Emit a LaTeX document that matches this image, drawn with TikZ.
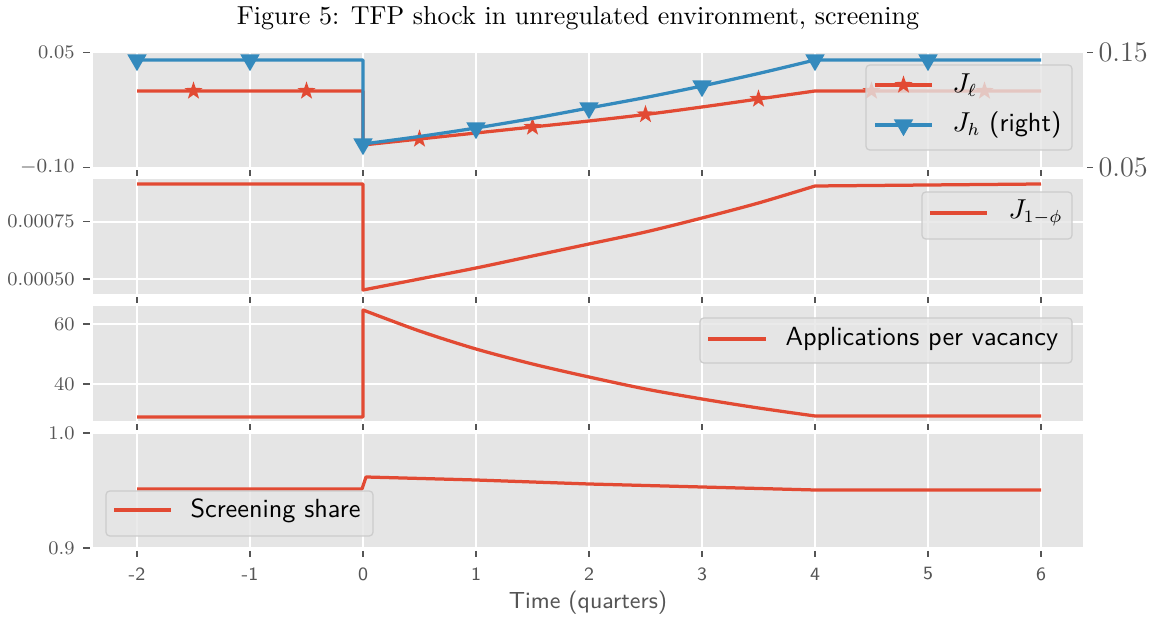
\documentclass[tikz,border=0pt]{standalone}
\usetikzlibrary{shapes.geometric}
\definecolor{ggRed}{RGB}{226,74,51}
\definecolor{ggBlue}{RGB}{52,138,189}
\definecolor{panelGray}{RGB}{229,229,229}
\definecolor{tickGray}{RGB}{85,85,85}
\definecolor{legEdge}{RGB}{204,204,204}

\begin{document}
\begin{tikzpicture}[
  x=0.4pt, y=-0.4pt,
  gridln/.style={white, line width=0.75pt},
  tk/.style={tickGray, line width=0.6pt},
  ylab/.style={anchor=east, inner sep=0pt, text=tickGray,
    font=\fontsize{7.7}{9}\selectfont},
  rlab/.style={anchor=west, inner sep=0pt, text=tickGray,
    font=\fontsize{11.3}{13}\selectfont},
  xlab/.style={inner sep=0pt, text=tickGray,
    font=\sffamily\fontsize{7.5}{9}\selectfont},
  series/.style={ggRed, line width=1.3pt, line join=round},
  jh/.style={ggBlue, line width=1.3pt, line join=round},
  curve/.style={smooth, tension=0.5},
  starmk/.style={star, star points=5, star point ratio=2.5,
    fill=ggRed, inner sep=0pt, minimum size=7.6pt},
  trimk/.style={regular polygon, regular polygon sides=3,
    shape border rotate=180, fill=ggBlue, inner sep=0pt,
    minimum size=9pt},
  leg/.style={draw=legEdge, fill=panelGray, fill opacity=0.8,
    line width=0.5pt, rounded corners=1.5pt},
  legtxt/.style={anchor=west, inner sep=0pt,
    font=\sffamily\fontsize{10.5}{12}\selectfont},
]
  \useasboundingbox (0,0) rectangle (1156,618);

  \node[font=\fontsize{10.4}{12}\selectfont] (title) at (578,18)
    {Figure 5: TFP shock in unregulated environment, screening};

  % panels, grid and x ticks
  \foreach \top in {52.5,179.3,306.1,432.9} {
    \fill[panelGray] (93,\top) rectangle (1083,\top+115);
    \foreach \x in {137,250,363,476,589,702,815,928,1041} {
      \draw[gridln] (\x,\top) -- (\x,\top+115);
      \draw[tk] (\x,\top+118) -- (\x,\top+124);
    }
  }
  \foreach \y in {52.5,167.5,221.7,279,324,384,433,548} {
    \draw[gridln] (93,\y) -- (1083,\y);
    \draw[tk] (83,\y) -- (90,\y);
  }
  \draw[tk] (1087,52.5) -- (1093,52.5);
  \draw[tk] (1087,167.5) -- (1093,167.5);

  % y labels
  \node[ylab] (y1a) at (75,52.5) {0.05};
  \node[ylab] (y1b) at (75,167.5) {$-0.10$};
  \node[ylab] (y2a) at (75,221.7) {0.00075};
  \node[ylab] (y2b) at (75,279) {0.00050};
  \node[ylab] (y3a) at (75,324) {60};
  \node[ylab] (y3b) at (75,384) {40};
  \node[ylab] (y4a) at (75,433) {1.0};
  \node[ylab] (y4b) at (75,548) {0.9};
  \node[rlab] (r1a) at (1098,52.5) {0.15};
  \node[rlab] (r1b) at (1098,167.5) {0.05};

  % x labels
  \foreach \x/\t in {137/-2,250/-1,363/0,476/1,589/2,702/3,815/4,928/5,1041/6}
    \node[xlab] (xl\t) at (\x,574) {\t};
  \node[text=tickGray, font=\sffamily\fontsize{9.3}{11}\selectfont] (xtitle)
    at (588,603) {Time (quarters)};

  % J_l
  \draw[series] (137,91) -- (363,91) -- plot[curve] coordinates {(363,145)
    (419.5,139) (476,133) (532.5,127) (589,121) (645.5,114.5) (702,107)
    (758.5,99) (815,91)} -- (1041,91);
  \foreach \px/\py [count=\k] in {193.5/91,306.5/91,419.5/139,532.5/127,
      645.5/114.5,758.5/99,871.5/91,984.5/91}
    \node[starmk] (st\k) at (\px,\py) {};

  % legend J_l, J_h
  \draw[leg] (866,65) rectangle (1072,150);
  \draw[series] (875,85) -- (932,85);
  \node[starmk] (legst) at (903.5,85) {};
  \node[legtxt] (legjl) at (952,85) {$J_\ell$};
  \draw[jh] (875,125) -- (932,125);
  \node[trimk] (legtri) at (903.5,125) {};
  \node[legtxt] (legjh) at (952,125) {$J_h$ (right)};

  % J_h
  \draw[jh] (137,60) -- (363,60) -- plot[curve] coordinates {(363,144)
    (419.5,136.5) (476,128) (532.5,118.5) (589,108) (645.5,97.5) (702,86)
    (758.5,73.5) (815,60)} -- (1041,60);
  \foreach \px/\py [count=\k] in {137/60,250/60,363/144,476/128,589/108,
      702/86,815/60,928/60}
    \node[trimk] (tr\k) at (\px,\py) {};

  % J_{1-phi}
  \draw[series] (137,184) -- (363,184) -- plot[curve] coordinates {(363,290)
    (419.5,279) (476,268) (532.5,256) (589,244) (645.5,232) (702,218)
    (758.5,203) (815,186)} -- (1041,184);
  \draw[leg] (922,192) rectangle (1072,239);
  \draw[series] (930,213) -- (987,213);
  \node[legtxt] (legphi) at (1008,213) {$J_{1-\phi}$};

  % applications per vacancy
  \draw[series] (137,417) -- (363,417) -- plot[curve] coordinates {(363,310)
    (419.5,331) (476,349) (532.5,364) (589,377) (645.5,389) (702,399)
    (758.5,408) (815,416)} -- (1041,416);
  \draw[leg] (700,318) rectangle (1072,363);
  \draw[series] (708,339) -- (766,339);
  \node[legtxt] (legapp) at (785,339) {Applications per vacancy};

  % screening share
  \draw[series] (137,489) -- (362,489) -- (366,477) -- (476,480) -- (589,484)
    -- (702,487) -- (815,490) -- (1041,490);
  \draw[leg] (106,491) rectangle (373,536);
  \draw[series] (114,510) -- (171,510);
  \node[legtxt] (legscr) at (190,511) {Screening share};

\end{tikzpicture}
\end{document}
